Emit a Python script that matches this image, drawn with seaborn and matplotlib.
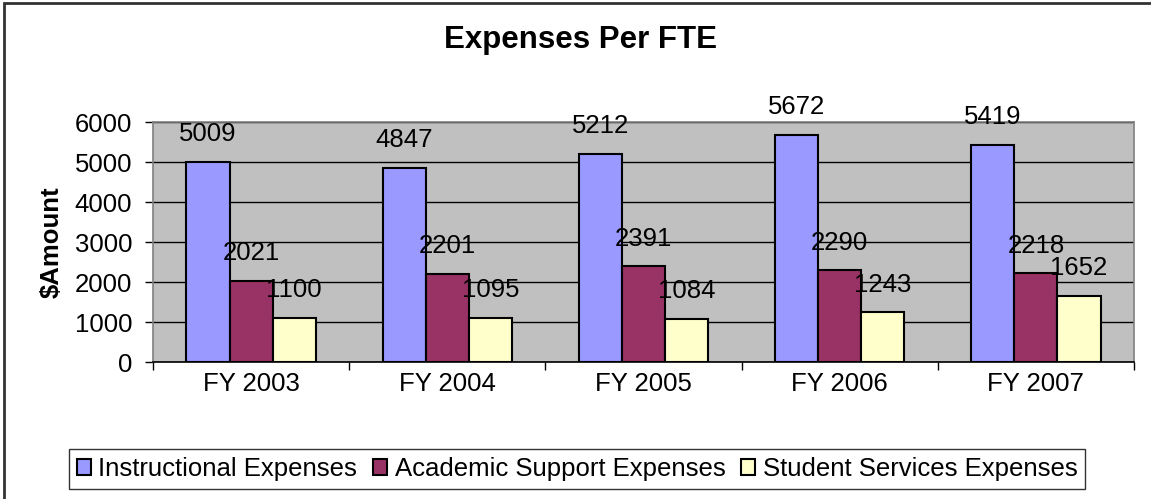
import pandas as pd
import matplotlib.pyplot as plt
import seaborn as sns
from matplotlib.patches import Rectangle

# data
years = ['FY 2003', 'FY 2004', 'FY 2005', 'FY 2006', 'FY 2007']
instructional = [5009, 4847, 5212, 5672, 5419]
academic = [2021, 2201, 2391, 2290, 2218]
student = [1100, 1095, 1084, 1243, 1652]
series_names = ['Instructional Expenses', 'Academic Support Expenses', 'Student Services Expenses']
colors = ['#9999FF', '#993366', '#FFFFCC']

df = pd.DataFrame({'Year': years * 3,
                   'Series': [s for s in series_names for _ in years],
                   'Amount': instructional + academic + student})

sns.set_style('white')
plt.rcParams['font.family'] = ['Liberation Sans', 'DejaVu Sans']
plt.rcParams['text.color'] = 'black'
plt.rcParams['axes.labelcolor'] = 'black'
plt.rcParams['xtick.color'] = 'black'
plt.rcParams['ytick.color'] = 'black'

fs = 18.5

fig = plt.figure(figsize=(11.51, 4.99), dpi=100)
ax = fig.add_axes([153 / 1151, 1 - 362 / 499, 981 / 1151, 240 / 499])

sns.barplot(data=df, x='Year', y='Amount', hue='Series', palette=colors,
            width=0.66, edgecolor='black', linewidth=1.5, saturation=1,
            ax=ax, zorder=3)

ax.set_facecolor('#C0C0C0')
ax.set_ylim(0, 6000)
ax.set_xlim(-0.5, 4.5)
ax.set_yticks(range(0, 6001, 1000))
ax.yaxis.grid(True, color='black', linewidth=1, zorder=0)
ax.set_axisbelow(True)
for side in ['top', 'right', 'left']:
    ax.spines[side].set_color('#808080')
    ax.spines[side].set_linewidth(1.2)
ax.spines['bottom'].set_color('black')
ax.spines['bottom'].set_linewidth(1.2)

ax.tick_params(axis='y', left=True, length=6, width=1, color='black', pad=9, labelsize=fs)
ax.tick_params(axis='x', which='major', length=0, pad=7, labelsize=fs)
ax.set_xticks([i - 0.5 for i in range(6)], minor=True)
ax.tick_params(axis='x', which='minor', bottom=True, length=6, width=1, color='black')

ax.set_xlabel('')
ax.set_ylabel('$Amount', fontsize=fs, fontweight='bold', labelpad=8)

# value labels above bars
for container in ax.containers:
    for bar in container:
        h = bar.get_height()
        ax.annotate(f'{h:.0f}', (bar.get_x() + bar.get_width() / 2, h),
                    xytext=(0, 20), textcoords='offset points',
                    ha='center', va='center', fontsize=fs, zorder=5)

fig.suptitle('Expenses Per FTE', x=580 / 1151, y=1 - 40 / 499, va='center',
             fontsize=22.5, fontweight='bold')

ax.get_legend().remove()
handles, labels = ax.get_legend_handles_labels()
leg = fig.legend(handles, labels, loc='center', ncol=3, bbox_to_anchor=(577 / 1151, 1 - 469 / 499),
                 fontsize=fs, frameon=True, fancybox=False, edgecolor='black',
                 handlelength=0.55, handleheight=0.55, handletextpad=0.3, columnspacing=0.6,
                 borderpad=0.3)
leg.get_frame().set_linewidth(1)

# outer chart border
fig.patches.append(Rectangle((4 / 1151, -0.1), 1.2, 1 - 3 / 499 + 0.1, transform=fig.transFigure,
                             fill=False, edgecolor='#333333', linewidth=2))

fig.savefig('out.png', dpi=100)
